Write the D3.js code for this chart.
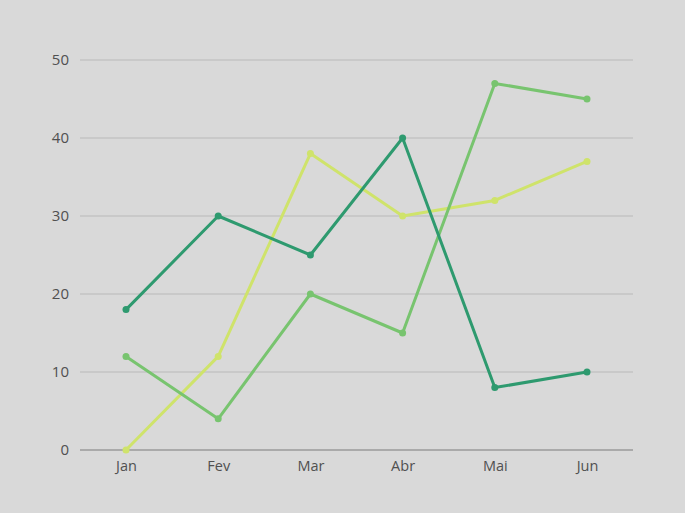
<!DOCTYPE html>
<html>
<head>
<meta charset="utf-8">
<script src="https://cdn.jsdelivr.net/npm/d3@7"></script>
<style>
body { margin: 0; background: #d9d9d9; }
svg { display: block; font-family: "Open Sans", sans-serif; }
</style>
</head>
<body>
<svg></svg>
<script>
const width = 685;
const height = 513;

const months = ['Jan', 'Fev', 'Mar', 'Abr', 'Mai', 'Jun'];
const yTicks = [0, 10, 20, 30, 40, 50];
const serieLight = [0, 12, 38, 30, 32, 37];
const serieMedium = [12, 4, 20, 15, 47, 45];
const serieDark = [18, 30, 25, 40, 8, 10];

const series = [
    { values: serieLight, color: '#cfe36b' },
    { values: serieMedium, color: '#78c46f' },
    { values: serieDark, color: '#2e9a6f' }
];

const svg = d3.select('svg')
    .attr('width', width).attr('height', height);

const x = d3.scalePoint()
    .domain(months)
    .range([126, 587]);

const y = d3.scaleLinear()
    .domain([0, 50])
    .range([450, 60]);

// grid
const grid = svg.append('g');
grid.selectAll('line')
    .data(yTicks)
    .enter().append('line')
    .attr('x1', 80).attr('x2', 633)
    .attr('y1', d => y(d)).attr('y2', d => y(d))
    .style('stroke', d => d === 0 ? '#9a9a9a' : '#b9b9b9')
    .style('stroke-width', d => d === 0 ? 1.5 : 1);

const yAxis = svg.append('g')
    .attr('transform', 'translate(69,0)')
    .call(d3.axisLeft(y).tickValues(yTicks).tickSize(0).tickPadding(0));
yAxis.select('.domain').remove();
yAxis.selectAll('text')
    .style('font-family', '"Open Sans", sans-serif')
    .style('font-size', '15px')
    .style('fill', '#505050');

const xAxis = svg.append('g')
    .attr('transform', 'translate(0,461)')
    .call(d3.axisBottom(x).tickSize(0).tickPadding(0));
xAxis.select('.domain').remove();
xAxis.selectAll('text')
    .style('font-family', '"Open Sans", sans-serif')
    .style('font-size', '14.5px')
    .style('fill', '#505050');

const line = d3.line()
    .x((d, i) => x(months[i]))
    .y(d => y(d));

series.forEach(s => {
    const g = svg.append('g');
    g.append('path')
        .datum(s.values)
        .attr('d', line)
        .style('fill', 'none')
        .style('stroke', s.color)
        .style('stroke-width', 3)
        .style('stroke-linejoin', 'round');
    g.selectAll('circle')
        .data(s.values)
        .enter().append('circle')
        .attr('cx', (d, i) => x(months[i]))
        .attr('cy', d => y(d))
        .attr('r', 3.5)
        .style('fill', s.color);
});
</script>
</body>
</html>
